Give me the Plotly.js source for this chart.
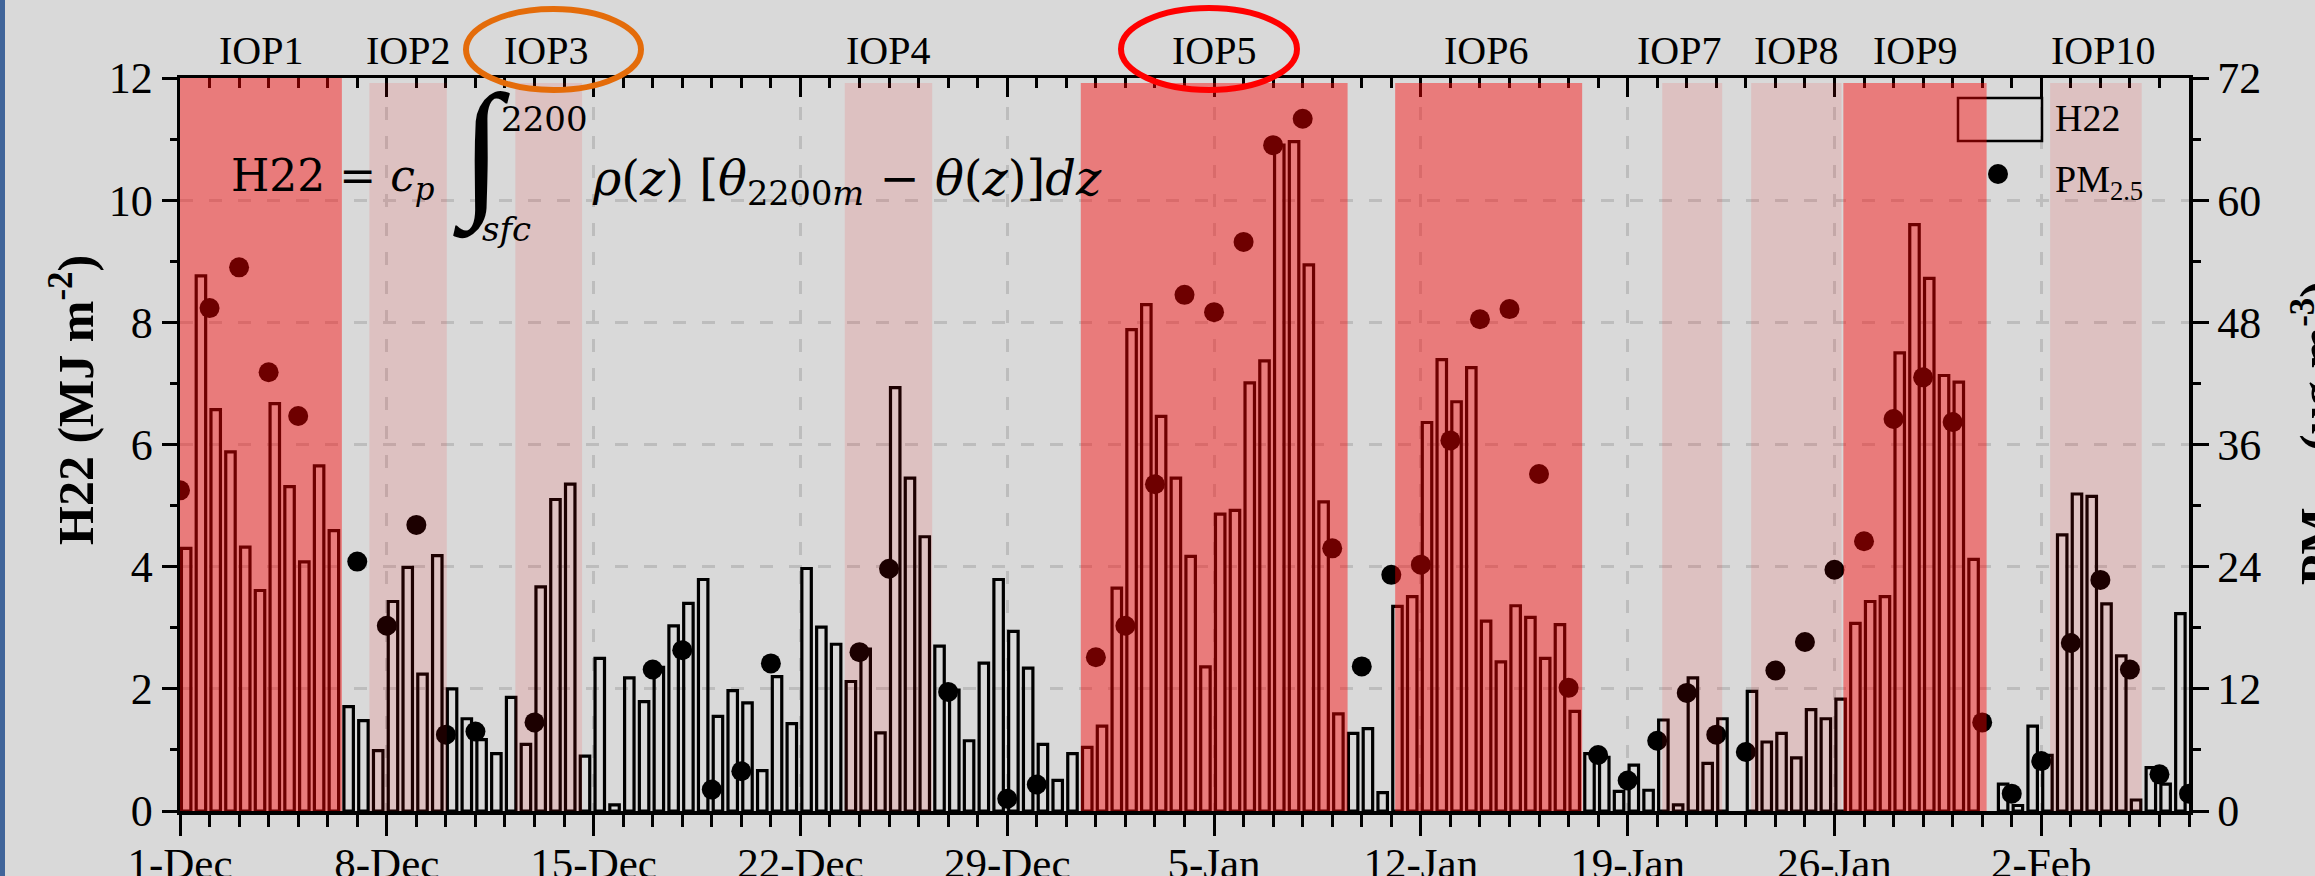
<!DOCTYPE html>
<html><head><meta charset="utf-8">
<script src="https://cdn.plot.ly/plotly-3.0.1.min.js"></script>
<style>
html,body{margin:0;padding:0;background:#d9d9d9;overflow:hidden}
#wrap{position:relative;width:2315px;height:876px}
#chart{width:2315px;height:876px}
#edge{position:absolute;left:0;top:0;width:5px;height:876px;background:#41659a}
</style></head><body>
<div id="wrap"><div id="chart"></div><div id="edge"></div></div>
<script>
// ---------------- data ----------------
const startDay = '2016-12-01';
// H22 heat deficit, 12-hourly (MJ m-2), from 1-Dec to 7-Feb
const h22 = [
 4.30, 8.76, 6.57, 5.88, 4.32, 3.61, 6.67, 5.31, 4.08, 5.65, 4.59,
 1.71, 1.48, 0.99, 3.43, 3.99, 2.24, 4.18, 2.00, 1.51, 1.17, 0.94, 1.86,
 1.09, 3.67, 5.10, 5.35, 0.90, 2.50, 0.10, 2.18, 1.79, 2.35, 3.03, 3.40, 3.79, 1.55, 1.97, 1.77, 0.66, 2.20, 1.43, 3.97, 3.01, 2.73, 2.12,
 2.65, 1.28, 6.93, 5.45, 4.49, 2.70, 1.98, 1.15, 2.42, 3.79, 2.94, 2.34, 1.09, 0.50, 0.94, 1.04, 1.39, 3.65, 7.88, 8.29, 6.46, 5.45,
 4.17, 2.36, 4.86, 4.92, 7.01, 7.37, 10.90, 10.96, 8.94, 5.06, 1.59, 1.27, 1.35, 0.30, 3.35, 3.51, 6.36, 7.39, 6.70, 7.26, 3.11, 2.44, 3.36,
 3.17, 2.50, 3.05, 1.63, 0.94, 0.88, 0.32, 0.75, 0.34, 1.49, 0.10, 2.18, 0.78, 1.51, null, 1.96, 1.13, 1.27, 0.87, 1.66, 1.51, 1.83,
 3.07, 3.43, 3.51, 7.50, 9.60, 8.72, 7.13, 7.02, 4.12, null, 0.44, 0.09, 1.39, 0.91, 4.52, 5.19, 5.15, 3.39, 2.54, 0.18, 0.71, 0.44, 3.23
];
// daily PM2.5 (ug m-3), 1-Dec to 7-Feb
const pm25 = [
 31.5, 49.4, 53.4, 43.1, 38.8, null, 24.5, 18.2, 28.1, 7.5, 7.8, null, 8.7, null, null, null, 13.9, 15.8, 2.1, 3.9, 14.5, null, null,
 15.6, 23.8, null, 11.7, null, 1.2, 2.6, null, 15.1, 18.2, 32.1, 50.7, 49.0, 55.9, 65.4, 68.0, 25.8, 14.2, 23.2, 24.2, 36.4, 48.3, 49.3,
 33.1, 12.1, 5.5, 3.0, 6.9, 11.6, 7.5, 5.8, 13.8, 16.6, 23.7, 26.5, 38.5, 42.6, 38.2, 8.7, 1.7, 4.9, 16.5, 22.7, 13.9, 3.6, 1.7
];
const iopNames = ['IOP1','IOP2','IOP3','IOP4','IOP5','IOP6','IOP7','IOP8','IOP9','IOP10'];
const iopStart = ['2016-12-01 00:00','2016-12-07 09:50','2016-12-12 08:24','2016-12-23 12:00','2016-12-31 11:45',
                  '2017-01-11 03:07','2017-01-20 04:05','2017-01-23 04:19','2017-01-26 07:12','2017-02-02 07:12'];
const iopEnd   = ['2016-12-06 11:30','2016-12-10 00:45','2016-12-14 14:38','2016-12-26 11:02','2017-01-09 12:29',
                  '2017-01-17 11:02','2017-01-22 04:48','2017-01-26 05:46','2017-01-31 03:36','2017-02-05 09:36'];
const iopHeavy = [true,false,false,false,true,true,false,false,true,false];
const xRange = ['2016-12-01 00:00','2017-02-07 00:00'];

// ---------------- styles ----------------
const DAY = 86400000;
const serif = 'Liberation Serif, Times New Roman, serif';
const labelShift = [0,0,-3,0,0,-3,-13,0,0,7];
const heavyFill = 'rgba(255,0,0,0.433)';
const lightFill = 'rgba(255,0,0,0.11)';

function p2(n){return String(n).padStart(2,'0');}
function fmt(ms){const d=new Date(ms);return d.getUTCFullYear()+'-'+p2(d.getUTCMonth()+1)+'-'+p2(d.getUTCDate())+' '+p2(d.getUTCHours())+':'+p2(d.getUTCMinutes());}
function toMs(s){return Date.parse(s.replace(' ','T')+':00Z');}
const t0 = Date.parse(startDay+'T00:00:00Z');
const h22Times = h22.map((_,i)=>fmt(t0 + i*DAY/2 + 5*3600000));
const pmTimes = pm25.map((_,i)=>fmt(t0 + i*DAY));

// plot-area pixel helpers for paper placement
const L=180, R=126, T=78, B=65, W=2315, H=876;
const PW=W-L-R, PH=H-T-B;
const px=x=>(x-L)/PW, py=y=>(H-B-y)/PH;

const traces = [
 {type:'bar', x:h22Times, y:h22, width:0.32*DAY, name:'H22',
  marker:{color:'rgba(0,0,0,0)', line:{color:'#000', width:3.2}}, hoverinfo:'skip'},
 {type:'scatter', mode:'markers', x:pmTimes, y:pm25, yaxis:'y2', name:'PM2.5',
  marker:{color:'#000', size:20}, hoverinfo:'skip'},
 {type:'scatter', mode:'markers', x:[xRange[0]], y:[null], xaxis:'x2', showlegend:false, hoverinfo:'skip'}
];

const shapes = [];
// legend box (drawn first so the IOP9 shading tints it)
shapes.push({type:'rect', xref:'paper', yref:'paper', x0:px(1958), x1:px(2042), y0:py(141), y1:py(98),
  line:{color:'#000', width:2.5}, fillcolor:'rgba(0,0,0,0)', layer:'above'});
iopNames.forEach((n,i)=>{
  shapes.push({type:'rect', xref:'x', yref:'y', x0:iopStart[i], x1:iopEnd[i], y0:0, y1:(i===0?12:11.92),
    fillcolor: iopHeavy[i]?heavyFill:lightFill, line:{width:0}, layer:'above'});
});
// legend marker
shapes.push({type:'circle', xref:'paper', yref:'paper', xsizemode:'pixel', ysizemode:'pixel',
  xanchor:px(1998), yanchor:py(174), x0:-10, x1:10, y0:-10, y1:10, fillcolor:'#000', line:{width:0}, layer:'above'});
// highlight ellipses
shapes.push({type:'circle', xref:'paper', yref:'paper', x0:px(466), x1:px(641), y0:py(90), y1:py(9),
  line:{color:'#e46c0a', width:6}, fillcolor:'rgba(0,0,0,0)', layer:'above'});
shapes.push({type:'circle', xref:'paper', yref:'paper', x0:px(1121), x1:px(1297), y0:py(90), y1:py(8),
  line:{color:'#ff0000', width:6}, fillcolor:'rgba(0,0,0,0)', layer:'above'});

const annotations = [];
iopNames.forEach((n,i)=>{
  const mid = fmt((toMs(iopStart[i])+toMs(iopEnd[i]))/2);
  annotations.push({x:mid, xref:'x', y:py(50), yref:'paper', text:n, showarrow:false,
    xanchor:'center', yanchor:'middle', xshift:labelShift[i], font:{family:serif, size:40, color:'#000'}});
});
const mf = 'DejaVu Serif, serif';
annotations.push(
 {x:px(229), y:py(178), xref:'paper', yref:'paper', xanchor:'left', yanchor:'middle', showarrow:false,
  text:'H22 = <i>c</i><sub><i>p</i></sub>', font:{family:mf, size:44, color:'#000'}},
 {x:px(481), y:py(151), xref:'paper', yref:'paper', xanchor:'center', yanchor:'middle', showarrow:false,
  text:'∫', font:{family:serif, size:150, color:'#000'}},
 {x:px(499), y:py(119), xref:'paper', yref:'paper', xanchor:'left', yanchor:'middle', showarrow:false,
  text:'2200', font:{family:mf, size:34, color:'#000'}},
 {x:px(480), y:py(229), xref:'paper', yref:'paper', xanchor:'left', yanchor:'middle', showarrow:false,
  text:'<i>sfc</i>', font:{family:mf, size:34, color:'#000'}},
 {x:px(590), y:py(181), xref:'paper', yref:'paper', xanchor:'left', yanchor:'middle', showarrow:false,
  text:'<i>ρ</i>(<i>z</i>) [<i>θ</i><sub>2200<i>m</i></sub> − <i>θ</i>(<i>z</i>)]<i>dz</i>', font:{family:mf, size:48, color:'#000'}},
 // legend texts
 {x:px(2053), y:py(118), xref:'paper', yref:'paper', xanchor:'left', yanchor:'middle', showarrow:false,
  text:'H22', font:{family:serif, size:38, color:'#000'}},
 {x:px(2053), y:py(182), xref:'paper', yref:'paper', xanchor:'left', yanchor:'middle', showarrow:false,
  text:'PM<sub>2.5</sub>', font:{family:serif, size:38, color:'#000'}},
 // axis titles
 {x:px(72), y:py(400), xref:'paper', yref:'paper', xanchor:'center', yanchor:'middle', showarrow:false, textangle:-90,
  text:'<b>H22 (MJ m<sup>-2</sup>)</b>', font:{family:serif, size:50, color:'#000'}},
 {x:px(2318), y:py(433), xref:'paper', yref:'paper', xanchor:'center', yanchor:'middle', showarrow:false, textangle:-90,
  text:'<b>PM<sub>2.5</sub> (μg m<sup>-3</sup>)</b>', font:{family:serif, size:50, color:'#000'}}
);

const axisCommon = {showline:true, linecolor:'#000', zeroline:false, ticks:'outside', tickcolor:'#000', tickwidth:3};
const layout = {
  width:W, height:H, margin:{l:L, r:R, t:T, b:B, pad:0},
  paper_bgcolor:'#d9d9d9', plot_bgcolor:'#d9d9d9', showlegend:false, bargap:0,
  font:{family:serif, color:'#000'},
  xaxis:Object.assign({}, axisCommon, {type:'date', range:xRange, tick0:startDay, dtick:7*DAY, tickformat:'%-d-%b',
    ticklen:21, linewidth:4, showgrid:true, gridcolor:'#bdbdbd', gridwidth:3, griddash:'13px,16px',
    ticklabelstandoff:-10,
    tickfont:{family:serif, size:43, color:'#000'},
    minor:{dtick:DAY, ticklen:12, tickwidth:3, tickcolor:'#000', ticks:'outside', showgrid:false}}),
  xaxis2:{type:'date', overlaying:'x', side:'top', range:xRange, tick0:startDay, dtick:7*DAY, showline:true, linecolor:'#000',
    linewidth:3.5, ticks:'inside', ticklen:19, tickwidth:3, tickcolor:'#000', showticklabels:false, showgrid:false, zeroline:false,
    minor:{dtick:DAY, ticklen:10, tickwidth:3, tickcolor:'#000', ticks:'inside', showgrid:false}},
  yaxis:Object.assign({}, axisCommon, {range:[0,12], dtick:2, ticklen:15, linewidth:3.5, showgrid:true, gridcolor:'#bdbdbd',
    gridwidth:3, griddash:'13px,16px', tickfont:{family:serif, size:44, color:'#000'},
    minor:{dtick:1, ticklen:7, tickwidth:3, tickcolor:'#000', ticks:'outside', showgrid:false}}),
  yaxis2:Object.assign({}, axisCommon, {overlaying:'y', side:'right', range:[0,72], dtick:12, ticklen:16, linewidth:3.5,
    showgrid:false, tickfont:{family:serif, size:44, color:'#000'},
    minor:{dtick:6, ticklen:8, tickwidth:3, tickcolor:'#000', ticks:'outside', showgrid:false}}),
  shapes:shapes, annotations:annotations
};
Plotly.newPlot('chart', traces, layout, {displayModeBar:false, staticPlot:true});
</script></body></html>
